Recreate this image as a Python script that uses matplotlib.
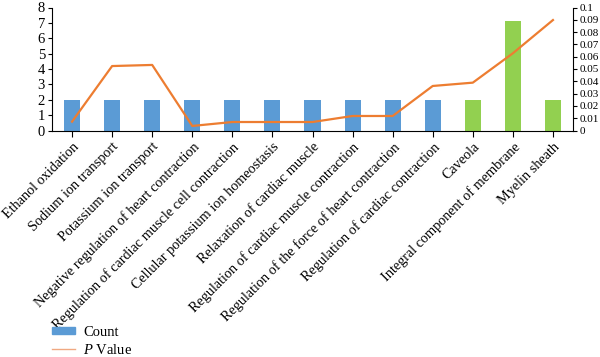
import matplotlib
matplotlib.use("Agg")
import matplotlib.pyplot as plt
from matplotlib.lines import Line2D
from matplotlib.patches import Patch

plt.rcParams['font.family'] = ['Liberation Serif', 'DejaVu Serif']
plt.rcParams['mathtext.fontset'] = 'custom'
plt.rcParams['mathtext.it'] = 'Liberation Serif:italic'
plt.rcParams['mathtext.rm'] = 'Liberation Serif'

categories = ["Ethanol oxidation", "Sodium ion transport", "Potassium ion transport",
              "Negative regulation of heart contraction",
              "Regulation of cardiac muscle cell contraction",
              "Cellular potassium ion homeostasis", "Relaxation of cardiac muscle",
              "Regulation of cardiac muscle contraction",
              "Regulation of the force of heart contraction",
              "Regulation of cardiac contraction", "Caveola",
              "Integral component of membrane", "Myelin sheath"]
counts = [2, 2, 2, 2, 2, 2, 2, 2, 2, 2, 2, 7.1, 2]
pvalues = [0.0072, 0.0524, 0.0533, 0.0037, 0.0069, 0.0069, 0.0069,
           0.0118, 0.0118, 0.0362, 0.0389, 0.0628, 0.0898]
groups = ["BP"] * 10 + ["CC"] * 3
group_colors = {"BP": "#5B9BD5", "CC": "#92D050"}

fig = plt.figure(figsize=(6.0, 3.57), dpi=100)
ax = fig.add_axes([52/600, 1 - 130.5/357, 521/600, 123/357])
x = list(range(len(categories)))
ax.bar(x, counts, width=0.4, color=[group_colors[g] for g in groups])
ax.set_xlim(-0.5, len(categories) - 0.5)
ax.set_ylim(0, 8)
ax.set_yticks(range(0, 9))
ax.set_xticks(x)
ax.set_xticklabels(categories, rotation=45, ha='right', rotation_mode='anchor', fontsize=10.3)
ax.tick_params(axis='y', labelsize=10.5, length=3, pad=2)
ax.tick_params(axis='x', length=4, pad=3)
for s in ['top', 'right']:
    ax.spines[s].set_visible(False)

ax2 = ax.twinx()
ax2.plot(x, pvalues, color="#ED7D31", lw=1.6)
ax2.set_ylim(0, 0.1)
ax2.set_yticks([i / 100 for i in range(11)])
ax2.set_yticklabels(["0"] + [f"{i/100:g}" for i in range(1, 11)])
ax2.tick_params(axis='y', labelsize=8, length=3, pad=2)
for s in ['top', 'left', 'bottom']:
    ax2.spines[s].set_visible(False)

handles = [Patch(color="#5B9BD5"), Line2D([0], [0], color="#F0A982", lw=1.0)]
fig.legend(handles, ["Count", "$\\it{P}$ Value"], loc='upper left',
           bbox_to_anchor=(52/600, 1 - 326/357), frameon=False, fontsize=10.5,
           handlelength=1.6, handleheight=0.4, labelspacing=0.25, borderpad=0,
           borderaxespad=0, handletextpad=0.55)

fig.savefig("out.png", dpi=100)
